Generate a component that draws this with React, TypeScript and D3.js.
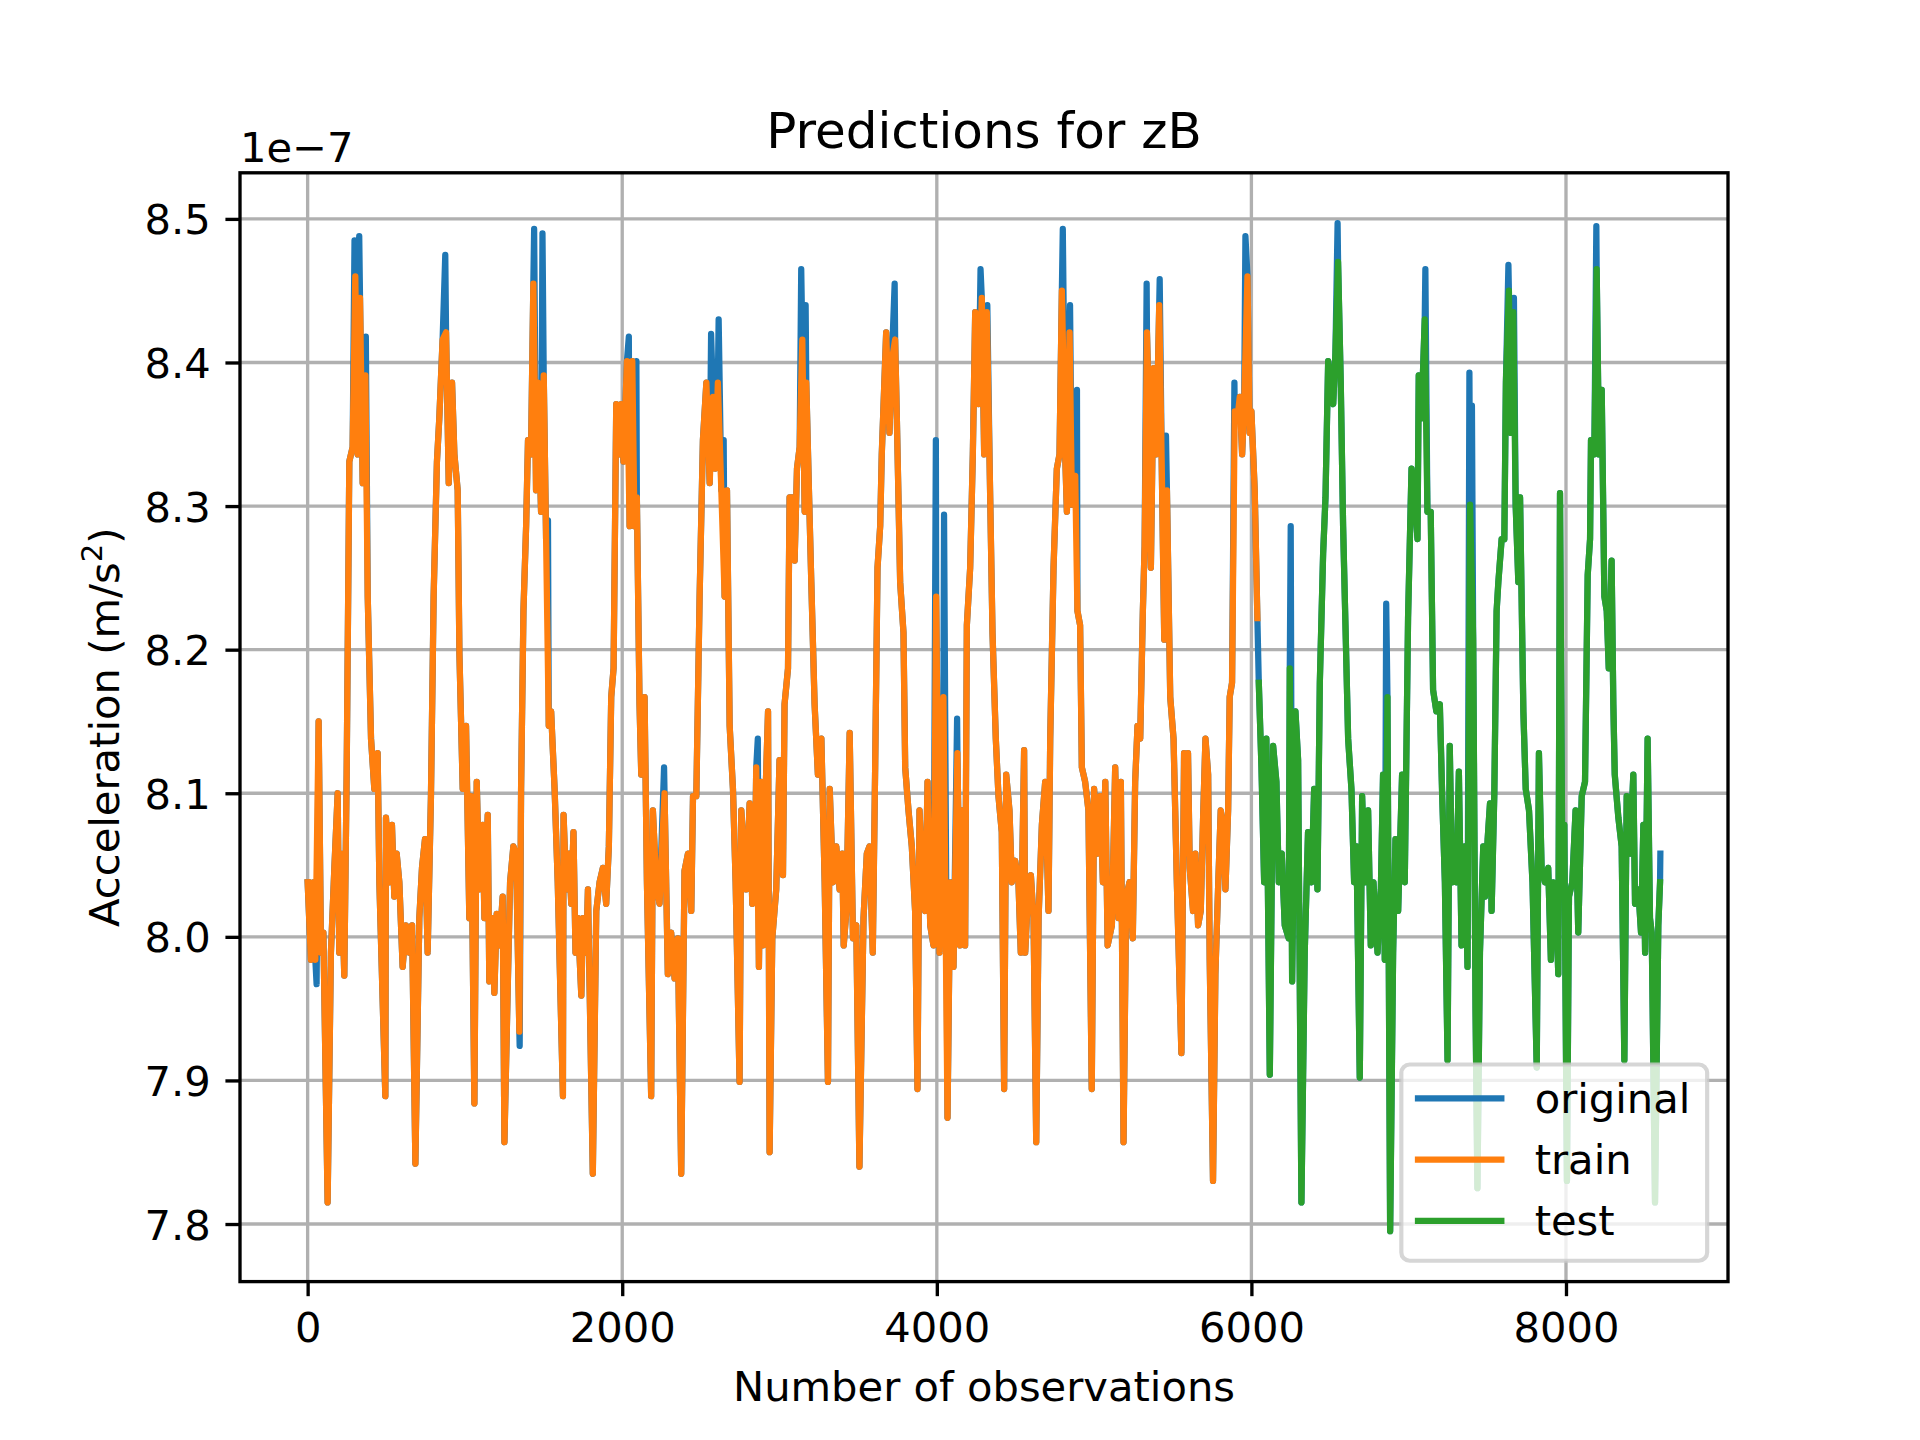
import * as d3 from 'd3';
import { useEffect, useRef } from 'react';

// x = observation index, y = acceleration in units of 1e-7 m/s^2
const trainPts: [number, number][] = [
  [0, 8.038], [21, 7.984], [36, 8.038], [49, 7.984], [70, 8.15], [85, 7.989], [100, 8.003], [127, 7.815],
  [148, 7.989], [170, 8.048], [191, 8.1], [201, 7.989], [212, 8.058], [233, 7.973], [248, 8.113], [265, 8.331],
  [286, 8.341], [303, 8.46], [318, 8.336], [333, 8.445], [350, 8.316], [367, 8.391], [382, 8.237], [403, 8.138],
  [424, 8.103], [445, 8.128], [456, 8.038], [494, 7.889], [498, 8.083], [519, 8.038], [536, 8.078], [551, 8.028],
  [566, 8.058], [583, 8.038], [604, 7.979], [625, 8.008], [646, 7.989], [664, 8.008], [685, 7.842], [710, 8.013],
  [727, 8.048], [746, 8.068], [763, 7.989], [784, 8.098], [801, 8.237], [822, 8.331], [837, 8.361], [858, 8.416],
  [880, 8.421], [897, 8.316], [918, 8.386], [933, 8.336], [954, 8.311], [965, 8.197], [986, 8.103], [1007, 8.147],
  [1028, 8.013], [1039, 8.098], [1060, 7.884], [1075, 8.108], [1092, 8.033], [1113, 8.078], [1124, 8.013], [1145, 8.085],
  [1155, 7.969], [1177, 8.013], [1187, 7.961], [1202, 8.016], [1219, 7.994], [1240, 8.028], [1251, 7.857], [1272, 7.964],
  [1287, 8.038], [1308, 8.063], [1325, 8.058], [1346, 7.934], [1357, 8.103], [1372, 8.227], [1389, 8.286], [1401, 8.346],
  [1420, 8.336], [1435, 8.455], [1452, 8.311], [1463, 8.386], [1484, 8.296], [1501, 8.391], [1516, 8.277], [1533, 8.147],
  [1548, 8.157], [1570, 8.103], [1590, 8.038], [1623, 7.889], [1627, 8.085], [1644, 8.033], [1661, 8.058], [1676, 8.023],
  [1690, 8.073], [1703, 7.989], [1718, 8.013], [1740, 7.959], [1750, 8.013], [1771, 7.989], [1782, 8.033], [1813, 7.835],
  [1835, 8.018], [1856, 8.038], [1877, 8.048], [1898, 8.023], [1915, 8.063], [1930, 8.167], [1945, 8.187], [1962, 8.371],
  [1983, 8.336], [1994, 8.371], [2008, 8.331], [2030, 8.401], [2047, 8.286], [2064, 8.401], [2078, 8.286], [2093, 8.306],
  [2110, 8.162], [2121, 8.113], [2142, 8.167], [2157, 8.038], [2184, 7.889], [2195, 8.088], [2216, 8.038], [2237, 8.023],
  [2269, 8.1], [2290, 7.974], [2311, 8.003], [2333, 7.971], [2354, 7.999], [2375, 7.835], [2396, 8.046], [2418, 8.058],
  [2439, 8.018], [2450, 8.098], [2471, 8.098], [2492, 8.237], [2513, 8.346], [2535, 8.386], [2556, 8.316], [2577, 8.376],
  [2591, 8.326], [2608, 8.386], [2630, 8.311], [2651, 8.237], [2666, 8.311], [2683, 8.147], [2704, 8.103], [2721, 8.038],
  [2746, 7.899], [2757, 8.088], [2789, 8.033], [2810, 8.093], [2827, 8.023], [2842, 8.038], [2852, 8.118], [2869, 7.979],
  [2884, 8.108], [2895, 7.994], [2912, 8.103], [2927, 8.157], [2937, 7.85], [2954, 7.999], [2979, 8.033], [3000, 8.123],
  [3022, 8.043], [3032, 8.162], [3054, 8.187], [3064, 8.306], [3081, 8.306], [3096, 8.262], [3111, 8.326], [3128, 8.341],
  [3145, 8.416], [3160, 8.296], [3170, 8.386], [3187, 8.311], [3202, 8.247], [3223, 8.162], [3244, 8.113], [3266, 8.138],
  [3287, 8.038], [3308, 7.899], [3319, 8.103], [3340, 8.038], [3361, 8.063], [3382, 8.033], [3399, 8.058], [3408, 7.994],
  [3425, 8.018], [3446, 8.142], [3467, 7.999], [3488, 8.008], [3508, 7.84], [3534, 8.013], [3555, 8.058], [3572, 8.063],
  [3593, 7.989], [3608, 8.118], [3623, 8.257], [3640, 8.286], [3650, 8.336], [3678, 8.421], [3699, 8.351], [3714, 8.401],
  [3735, 8.416], [3746, 8.361], [3767, 8.247], [3788, 8.212], [3799, 8.118], [3820, 8.088], [3841, 8.063], [3862, 8.018],
  [3877, 7.894], [3890, 8.088], [3905, 8.048], [3926, 8.018], [3941, 8.108], [3958, 8.008], [3979, 7.994], [3996, 8.237],
  [4017, 7.989], [4042, 8.167], [4068, 7.874], [4085, 8.038], [4106, 7.979], [4131, 8.128], [4148, 7.994], [4165, 8.088],
  [4180, 7.994], [4191, 8.217], [4212, 8.257], [4229, 8.336], [4244, 8.435], [4265, 8.371], [4286, 8.445], [4301, 8.336],
  [4318, 8.435], [4337, 8.321], [4354, 8.212], [4375, 8.138], [4392, 8.098], [4413, 8.073], [4428, 7.894], [4441, 8.113],
  [4462, 8.088], [4477, 8.038], [4498, 8.053], [4519, 8.038], [4534, 7.989], [4555, 8.13], [4562, 7.989], [4583, 8.038],
  [4598, 8.043], [4615, 8.013], [4632, 7.857], [4647, 8.013], [4668, 8.078], [4689, 8.108], [4710, 8.018], [4721, 8.138],
  [4742, 8.257], [4763, 8.326], [4780, 8.336], [4795, 8.45], [4816, 8.336], [4827, 8.296], [4844, 8.421], [4859, 8.301],
  [4880, 8.321], [4894, 8.227], [4911, 8.217], [4922, 8.118], [4943, 8.108], [4964, 8.088], [4985, 7.894], [5000, 8.103],
  [5022, 8.058], [5039, 8.098], [5056, 8.038], [5071, 8.108], [5086, 7.994], [5113, 8.008], [5134, 8.118], [5155, 8.013],
  [5170, 8.108], [5187, 7.857], [5204, 8.028], [5225, 8.038], [5246, 7.999], [5261, 8.108], [5276, 8.147], [5293, 8.138],
  [5310, 8.227], [5321, 8.272], [5336, 8.421], [5353, 8.346], [5361, 8.257], [5378, 8.396], [5395, 8.336], [5414, 8.44],
  [5431, 8.321], [5446, 8.207], [5463, 8.311], [5484, 8.167], [5505, 8.138], [5526, 8.038], [5555, 7.919], [5572, 8.128],
  [5587, 8.058], [5597, 8.128], [5608, 8.048], [5629, 8.018], [5644, 8.058], [5661, 8.008], [5678, 8.018], [5693, 8.083],
  [5708, 8.138], [5725, 8.113], [5735, 7.984], [5756, 7.83], [5771, 7.974], [5788, 8.033], [5805, 8.088], [5820, 8.078],
  [5835, 8.033], [5852, 8.088], [5862, 8.167], [5877, 8.177], [5894, 8.366], [5911, 8.361], [5926, 8.376], [5941, 8.336],
  [5954, 8.371], [5975, 8.46], [5989, 8.351], [6000, 8.366], [6021, 8.311], [6038, 8.222],
];

const testPts: [number, number][] = [
  [6047, 8.177], [6064, 8.118], [6081, 8.038], [6095, 8.138], [6117, 7.904], [6138, 8.133], [6159, 8.108], [6174, 8.038],
  [6193, 8.058], [6212, 8.008], [6237, 7.999], [6244, 8.187], [6259, 7.969], [6280, 8.157], [6297, 8.123], [6318, 7.815],
  [6339, 7.989], [6360, 8.073], [6382, 8.038], [6399, 8.103], [6420, 8.033], [6435, 8.177], [6456, 8.267], [6471, 8.306],
  [6488, 8.401], [6505, 8.386], [6520, 8.371], [6534, 8.406], [6551, 8.47], [6568, 8.386], [6583, 8.286], [6598, 8.217],
  [6615, 8.138], [6636, 8.103], [6653, 8.038], [6668, 8.063], [6689, 7.902], [6704, 8.098], [6721, 8.038], [6742, 8.088],
  [6759, 7.994], [6776, 8.038], [6789, 8.013], [6802, 7.989], [6823, 8.033], [6837, 8.113], [6848, 7.984], [6865, 8.167],
  [6882, 7.795], [6901, 7.989], [6916, 8.068], [6933, 8.018], [6958, 8.113], [6975, 8.038], [6996, 8.222], [7018, 8.326],
  [7035, 8.311], [7056, 8.277], [7064, 8.391], [7081, 8.361], [7102, 8.43], [7119, 8.296], [7140, 8.296], [7155, 8.172],
  [7176, 8.157], [7198, 8.162], [7213, 8.098], [7230, 8.038], [7247, 7.914], [7261, 8.133], [7276, 8.038], [7289, 8.063],
  [7304, 8.038], [7319, 8.115], [7336, 7.994], [7357, 8.063], [7374, 7.979], [7390, 8.301], [7410, 8.207], [7425, 7.949],
  [7437, 7.825], [7453, 7.989], [7474, 8.063], [7485, 8.028], [7502, 8.068], [7517, 8.093], [7527, 8.018], [7544, 8.098],
  [7559, 8.227], [7570, 8.247], [7591, 8.277], [7608, 8.277], [7618, 8.386], [7637, 8.45], [7650, 8.351], [7665, 8.435],
  [7680, 8.301], [7697, 8.247], [7708, 8.306], [7729, 8.157], [7744, 8.103], [7765, 8.088], [7787, 8.038], [7814, 7.909],
  [7828, 8.128], [7845, 8.048], [7866, 8.038], [7887, 8.048], [7904, 7.984], [7919, 8.038], [7934, 8.033], [7951, 7.974],
  [7962, 8.309], [7977, 8.038], [7989, 8.078], [8006, 7.83], [8019, 8.028], [8040, 8.038], [8061, 8.088], [8078, 8.003],
  [8100, 8.098], [8121, 8.108], [8138, 8.252], [8153, 8.277], [8159, 8.346], [8180, 8.336], [8195, 8.465], [8210, 8.336],
  [8227, 8.381], [8244, 8.237], [8259, 8.227], [8272, 8.187], [8290, 8.262], [8301, 8.162], [8310, 8.113], [8333, 8.083],
  [8354, 8.063], [8371, 7.914], [8386, 8.098], [8407, 8.058], [8428, 8.113], [8439, 8.023], [8460, 8.033], [8477, 8.003],
  [8492, 8.078], [8503, 7.989], [8519, 8.138], [8534, 8.013], [8545, 8.003], [8566, 7.815], [8587, 8.008], [8598, 8.038],
];

// the original series runs under the fits; these are the spots where it pokes out past them
const originalPeaks: [number, number][] = [
  [57, 7.967], [298, 8.485], [328, 8.488], [370, 8.418], [875, 8.475], [1348, 7.924], [1440, 8.493], [1493, 8.49],
  [1528, 8.29], [2042, 8.418], [2090, 8.401], [2266, 8.118], [2565, 8.42], [2613, 8.43], [2645, 8.346], [2862, 8.138],
  [3138, 8.465], [3166, 8.44], [3732, 8.455], [3994, 8.346], [4046, 8.294], [4129, 8.152], [4278, 8.465], [4321, 8.44],
  [4801, 8.493], [4847, 8.44], [4891, 8.381], [5334, 8.455], [5417, 8.458], [5457, 8.349], [5892, 8.386], [5962, 8.488],
  [6250, 8.286], [6548, 8.497], [6857, 8.232], [7106, 8.465], [7386, 8.393], [7402, 8.37], [7634, 8.468], [7669, 8.445],
  [8193, 8.495], [8600, 8.058],
];

const xTicks = [0, 2000, 4000, 6000, 8000];
const yTicks = [7.8, 7.9, 8.0, 8.1, 8.2, 8.3, 8.4, 8.5];
const legendLabels = ['original', 'train', 'test'];
const colors = ['#1f77b4', '#ff7f0e', '#2ca02c'];

export default function App() {
  const svgRef = useRef<SVGSVGElement>(null);

  useEffect(() => {
    if (!svgRef.current) return;
    document.body.style.margin = '0';

    const svg = d3.select(svgRef.current);
    svg.selectAll('*').remove();

    const width = 1920;
    const height = 1440;
    const pt = 300 / 72; // saved at 300 dpi
    const fs = 10 * pt;
    const font = "'DejaVu Sans', sans-serif";

    const left = 0.125 * width;
    const right = 0.9 * width;
    const top = 0.12 * height;
    const bottom = 0.89 * height;

    const originalPts = [...trainPts, ...testPts, ...originalPeaks].sort((a, b) => a[0] - b[0]);

    const [xMin, xMax] = d3.extent(originalPts, (d) => d[0]) as [number, number];
    const [yMin, yMax] = d3.extent(originalPts, (d) => d[1]) as [number, number];
    const xPad = (xMax - xMin) * 0.05;
    const yPad = (yMax - yMin) * 0.05;

    const x = d3.scaleLinear().domain([xMin - xPad, xMax + xPad]).range([left, right]);
    const y = d3.scaleLinear().domain([yMin - yPad, yMax + yPad]).range([bottom, top]);

    svg.append('rect').attr('width', width).attr('height', height).attr('fill', '#fff');

    svg
      .append('defs')
      .append('clipPath')
      .attr('id', 'plot-clip')
      .append('rect')
      .attr('x', left)
      .attr('y', top)
      .attr('width', right - left)
      .attr('height', bottom - top);

    // grid
    const grid = svg.append('g').attr('stroke', '#b0b0b0').attr('stroke-width', 0.8 * pt);
    grid
      .append('g')
      .selectAll('line')
      .data(xTicks)
      .join('line')
      .attr('x1', (d) => x(d))
      .attr('x2', (d) => x(d))
      .attr('y1', top)
      .attr('y2', bottom);
    grid
      .append('g')
      .selectAll('line')
      .data(yTicks)
      .join('line')
      .attr('x1', left)
      .attr('x2', right)
      .attr('y1', (d) => y(d))
      .attr('y2', (d) => y(d));

    // series
    const line = d3
      .line<[number, number]>()
      .x((d) => x(d[0]))
      .y((d) => y(d[1]));
    const plot = svg.append('g').attr('clip-path', 'url(#plot-clip)');
    [originalPts, trainPts, testPts].forEach((pts, i) => {
      plot
        .append('path')
        .attr('d', line(pts)!)
        .attr('fill', 'none')
        .attr('stroke', colors[i])
        .attr('stroke-width', 1.5 * pt)
        .attr('stroke-linejoin', 'round')
        .attr('stroke-linecap', 'square');
    });

    // axes
    const xAxis = svg
      .append('g')
      .attr('transform', `translate(0,${bottom})`)
      .call(
        d3
          .axisBottom(x)
          .tickValues(xTicks)
          .tickSize(3.5 * pt)
          .tickPadding(3.5 * pt)
          .tickFormat(d3.format('d'))
      );
    const yAxis = svg
      .append('g')
      .attr('transform', `translate(${left},0)`)
      .call(
        d3
          .axisLeft(y)
          .tickValues(yTicks)
          .tickSize(3.5 * pt)
          .tickPadding(3.5 * pt)
          .tickFormat(d3.format('.1f'))
      );
    [xAxis, yAxis].forEach((ax) => {
      ax.select('.domain').remove();
      ax.selectAll('line').attr('stroke', '#000').attr('stroke-width', 0.8 * pt);
      ax.selectAll('text').attr('font-family', font).attr('font-size', fs).attr('fill', '#000');
    });
    xAxis.selectAll('text').attr('dy', '0.76em');
    yAxis.selectAll('text').attr('dy', '0.36em');

    // spines
    svg
      .append('rect')
      .attr('x', left)
      .attr('y', top)
      .attr('width', right - left)
      .attr('height', bottom - top)
      .attr('fill', 'none')
      .attr('stroke', '#000')
      .attr('stroke-width', 0.8 * pt);

    // offset text, title, labels
    svg
      .append('text')
      .attr('x', left)
      .attr('y', top - 11)
      .attr('font-family', font)
      .attr('font-size', fs)
      .text('1e\u22127');

    svg
      .append('text')
      .attr('x', (left + right) / 2)
      .attr('y', top - 6 * pt)
      .attr('text-anchor', 'middle')
      .attr('font-family', font)
      .attr('font-size', 12 * pt)
      .text('Predictions for zB');

    svg
      .append('text')
      .attr('x', (left + right) / 2)
      .attr('y', 1401)
      .attr('text-anchor', 'middle')
      .attr('font-family', font)
      .attr('font-size', fs)
      .text('Number of observations');

    const yLabel = svg
      .append('text')
      .attr('transform', `translate(119,${(top + bottom) / 2}) rotate(-90)`)
      .attr('text-anchor', 'middle')
      .attr('font-family', font)
      .attr('font-size', fs);
    yLabel.append('tspan').text('Acceleration (m/s');
    yLabel.append('tspan').attr('font-size', fs * 0.7).attr('dy', -17).text('2');
    yLabel.append('tspan').attr('dy', 17).text(')');

    // legend, lower right
    const pad = 0.5 * fs;
    const borderPad = 0.4 * fs;
    const rowH = 0.97 * fs;
    const rowGap = 0.5 * fs;
    const handleLen = 2 * fs;
    const textPad = 0.8 * fs;
    const boxW = 2 * borderPad + handleLen + textPad + 3.74 * fs;
    const boxH = 2 * borderPad + legendLabels.length * rowH + (legendLabels.length - 1) * rowGap;
    const boxX = right - pad - boxW;
    const boxY = bottom - pad - boxH;

    const legend = svg.append('g');
    legend
      .append('rect')
      .attr('x', boxX)
      .attr('y', boxY)
      .attr('width', boxW)
      .attr('height', boxH)
      .attr('rx', 0.2 * fs)
      .attr('fill', '#fff')
      .attr('fill-opacity', 0.8)
      .attr('stroke', '#cccccc')
      .attr('stroke-opacity', 0.8)
      .attr('stroke-width', 1 * pt);

    const rows = legend
      .selectAll('g.row')
      .data(legendLabels)
      .join('g')
      .attr('transform', (_, i) => `translate(${boxX + borderPad},${boxY + borderPad + i * (rowH + rowGap) + 0.76 * fs})`);
    rows
      .append('line')
      .attr('x1', 0)
      .attr('x2', handleLen)
      .attr('y1', -0.35 * fs)
      .attr('y2', -0.35 * fs)
      .attr('stroke', (_, i) => colors[i])
      .attr('stroke-width', 1.5 * pt)
      .attr('stroke-linecap', 'square');
    rows
      .append('text')
      .attr('x', handleLen + textPad)
      .attr('font-family', font)
      .attr('font-size', fs)
      .text((d) => d);
  }, []);

  return <svg ref={svgRef} width={1920} height={1440} style={{ display: 'block' }} />;
}
